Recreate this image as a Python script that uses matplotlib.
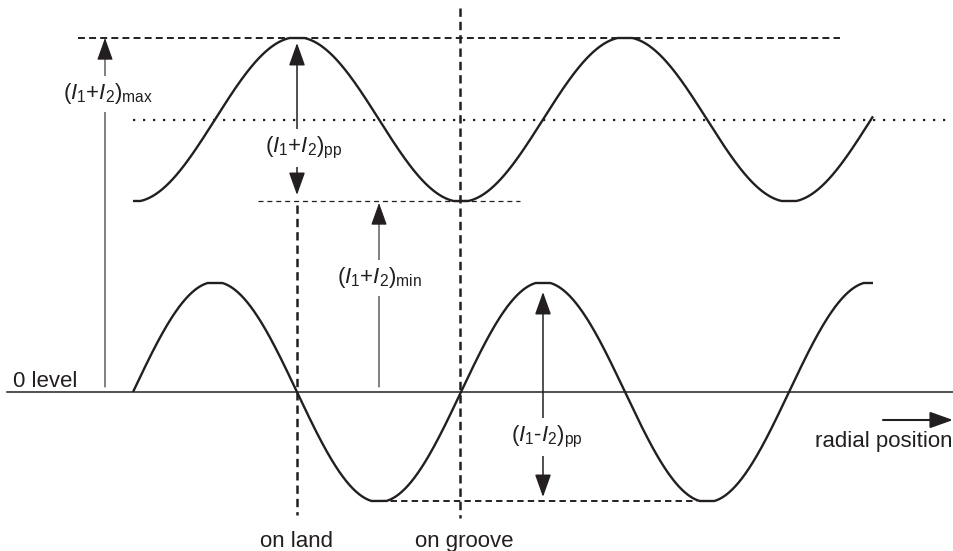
"""
Sketch of the sum and difference signals of a split photodetector across tracks
"""

import numpy as np
import matplotlib
matplotlib.use('Agg')
import matplotlib.pyplot as plt

# Signal levels (same units on both axes, 0 = "0 level")
radialStart = 133
radialEnd = 873
trackPeriod = 328
sumLevels = [191, 272.5, 354]      # (I1+I2) min, mean, max
diffLevels = [-109, 0, 109]        # (I1-I2) min, mean, max
flatTop = 0.99                     # tops of the waves look a bit flattened
trackX = [297, 460]
trackLabels = ['on land', 'on groove']
labelMax = r'$(I_1{+}I_2)_{\mathrm{max}}$'
labelPP = r'$(I_1{+}I_2)_{\mathrm{pp}}$'
labelMin = r'$(I_1{+}I_2)_{\mathrm{min}}$'
labelDiff = '$(I_1\u2010I_2)_{\\mathrm{pp}}$'

ink = '#231f20'


def flatWave(c):
    return np.clip(c, -flatTop, flatTop) / flatTop


def arrow(ax, tail, tip, style='-|>', lw=0.8):
    ax.annotate('', xy=tip, xytext=tail,
                arrowprops=dict(arrowstyle=style + ',head_length=0.7,head_width=0.25',
                                color=ink, lw=lw, shrinkA=0, shrinkB=0,
                                mutation_scale=20))


def main():
    plt.rcParams['font.family'] = ['Liberation Sans', 'DejaVu Sans']
    plt.rcParams['mathtext.fontset'] = 'custom'
    plt.rcParams['mathtext.rm'] = 'Liberation Sans'
    plt.rcParams['mathtext.it'] = 'Liberation Sans:italic'
    plt.rcParams['mathtext.bf'] = 'Liberation Sans:bold'
    plt.rcParams['lines.scale_dashes'] = False

    fig = plt.figure(figsize=(9.54, 5.51), dpi=100)
    ax = fig.add_axes([0, 0, 1, 1])
    ax.set_xlim(0, 954)
    ax.set_ylim(-159, 392)
    ax.axis('off')

    x = np.linspace(radialStart, radialEnd, 1200)
    phase = 2 * np.pi * (x - radialStart) / trackPeriod
    sumMean = sumLevels[1]
    sumAmp = (sumLevels[2] - sumLevels[0]) / 2
    diffAmp = (diffLevels[2] - diffLevels[0]) / 2
    sumSig = sumMean + sumAmp * flatWave(-np.cos(phase))
    diffSig = diffLevels[1] + diffAmp * flatWave(np.sin(phase))

    ax.plot(x, sumSig, color=ink, lw=1.7, solid_capstyle='butt')
    ax.plot(x, diffSig, color=ink, lw=1.7, solid_capstyle='butt')

    # 0 level
    ax.plot([7, 954], [diffLevels[1], diffLevels[1]], color=ink, lw=1.1)
    ax.text(13, 5, '0 level', fontsize=16, color=ink, ha='left', va='baseline')

    # helper lines
    ax.plot([78, 840], [sumLevels[2]] * 2, color=ink, lw=1.4, ls=(0, (5, 3)))
    ax.plot([133, 954], [sumLevels[1]] * 2, color=ink, lw=1.6, ls=(0, (1.6, 5.6)))
    ax.plot([258, 520], [sumLevels[0]] * 2, color=ink, lw=0.9, ls=(0, (3.6, 2.8)))
    ax.plot([380, 697], [diffLevels[0]] * 2, color=ink, lw=1.4, ls=(0, (4.6, 3)))

    ax.plot([trackX[0]] * 2, [187, -123], color=ink, lw=1.8, ls=(0, (6, 3.6)))
    ax.plot([trackX[1]] * 2, [384, -126], color=ink, lw=1.8, ls=(0, (6, 3.6)))
    ax.text(trackX[0], -155, trackLabels[0], fontsize=16, color=ink,
            ha='center', va='baseline')
    ax.text(trackX[1] + 4, -155, trackLabels[1], fontsize=16, color=ink,
            ha='center', va='baseline')

    # measurement arrows
    box = dict(boxstyle='square,pad=0.25', fc='white', ec='none')
    arrow(ax, (105, 5), (105, sumLevels[2]))
    ax.text(108, 298, labelMax, fontsize=16, color=ink, ha='center',
            va='center', bbox=box)

    arrow(ax, (297, sumLevels[2] - 5), (297, sumLevels[0] + 6), style='<|-|>', lw=1.1)
    ax.text(304, 244, labelPP, fontsize=16, color=ink, ha='center',
            va='center', bbox=box)

    arrow(ax, (379, 5), (379, sumLevels[0] - 2))
    ax.text(380, 114, labelMin, fontsize=16, color=ink, ha='center',
            va='center', bbox=box)

    arrow(ax, (543, diffLevels[2] - 9), (543, diffLevels[0] + 4), style='<|-|>', lw=1.1)
    ax.text(547, -45, labelDiff, fontsize=16, color=ink, ha='center',
            va='center', bbox=box)

    # radial position
    arrow(ax, (883, -28), (953, -28), lw=1.5)
    ax.text(953, -55, 'radial position', fontsize=16, color=ink,
            ha='right', va='baseline')

    fig.savefig('out.png', dpi=100)


if __name__ == '__main__':
    main()
